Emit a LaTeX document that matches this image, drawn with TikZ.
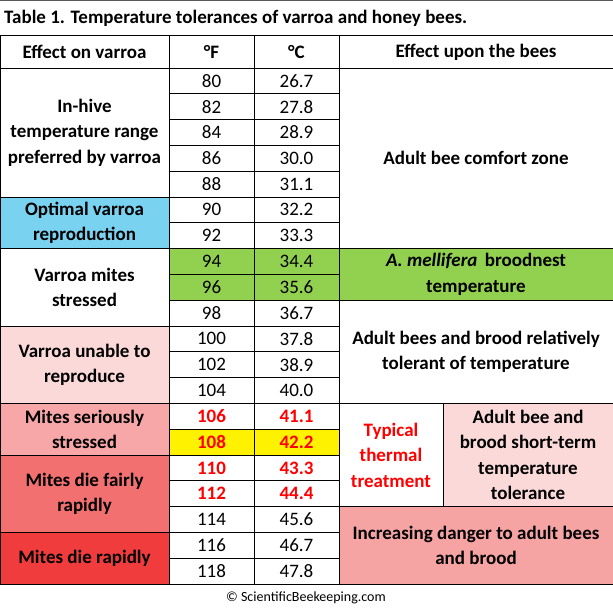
\documentclass[tikz,border=0pt]{standalone}
\usepackage{fontspec}
\setmainfont{Carlito}
\definecolor{cblue}{HTML}{78D2F0}
\definecolor{cgreen}{HTML}{92D050}
\definecolor{lpink}{HTML}{FCD9D9}
\definecolor{mpink}{HTML}{F7A7A7}
\definecolor{dpink}{HTML}{F27070}
\definecolor{cred}{HTML}{F03C3C}
\definecolor{dpink2}{HTML}{F5A3A3}
\definecolor{tred}{HTML}{FF0000}
\begin{document}
\begin{tikzpicture}[x=1pt,y=-1pt,
  cell/.style={draw=black,line width=0.9pt,fill=white},
  txt/.style={font=\bfseries\fontsize{19}{25.5}\selectfont,align=center,inner sep=0pt},
  num/.style={font=\fontsize{19}{22}\selectfont,inner sep=0pt},
  rnum/.style={font=\bfseries\fontsize{19}{22}\selectfont,text=tred,inner sep=0pt}]
\def\rh{25.8}
\useasboundingbox (0,0) rectangle (613,609);
\fill[white] (0,0) rectangle (613,609);
\draw[gray!70!black,line width=1pt] (0,0.5) -- (613,0.5);
\newcommand{\mycell}[6]{% x1,x2,rowtop,rowbot,fill,text
  \filldraw[cell,fill=#5] (#1,{68+\rh*#3}) rectangle (#2,{68+\rh*#4});
  \node[txt] at ({(#1+#2)/2},{68+\rh*(#3+#4)/2}) {#6};}
\node[txt,anchor=west] (title) at (4,18) {Table 1. Temperature tolerances of varroa and honey bees.};
% header
\filldraw[cell] (0,35) rectangle (169,68); \node[txt] (h1) at (84.5,52) {Effect on varroa};
\filldraw[cell] (169,35) rectangle (254,68); \node[txt] (h2) at (211.5,52) {°F};
\filldraw[cell] (254,35) rectangle (339,68); \node[txt] (h3) at (296.5,52) {°C};
\filldraw[cell] (339,35) rectangle (613,68); \node[txt] (h4) at (476,52) {Effect upon the bees};
% column 1
\mycell{0}{169}{0}{5}{white}{In-hive\\temperature range\\preferred by varroa}
\mycell{0}{169}{5}{7}{cblue}{Optimal varroa\\reproduction}
\mycell{0}{169}{7}{10}{white}{Varroa mites\\stressed}
\mycell{0}{169}{10}{13}{lpink}{Varroa unable to\\reproduce}
\mycell{0}{169}{13}{15}{mpink}{Mites seriously\\stressed}
\mycell{0}{169}{15}{18}{dpink}{Mites die fairly\\rapidly}
\mycell{0}{169}{18}{20}{cred}{Mites die rapidly}
% column 4
\mycell{339}{613}{0}{7}{white}{Adult bee comfort zone}
\mycell{339}{613}{7}{9}{cgreen}{\textit{A. mellifera}\, broodnest\\temperature}
\mycell{339}{613}{9}{13}{white}{Adult bees and brood relatively\\tolerant of temperature}
\mycell{339}{443}{13}{17}{white}{\textcolor{tred}{Typical}\\\textcolor{tred}{thermal}\\\textcolor{tred}{treatment}}
\mycell{443}{613}{13}{17}{lpink}{Adult bee and\\brood short-term\\temperature\\tolerance}
\mycell{339}{613}{17}{20}{dpink2}{Increasing danger to adult bees\\and brood}
% numbers
\foreach \i/\f/\c/\fc/\st in {0/80/26.7/white/num,1/82/27.8/white/num,2/84/28.9/white/num,3/86/30.0/white/num,4/88/31.1/white/num,5/90/32.2/white/num,6/92/33.3/white/num,7/94/34.4/cgreen/num,8/96/35.6/cgreen/num,9/98/36.7/white/num,10/100/37.8/white/num,11/102/38.9/white/num,12/104/40.0/white/num,13/106/41.1/white/rnum,14/108/42.2/yellow/rnum,15/110/43.3/white/rnum,16/112/44.4/white/rnum,17/114/45.6/white/num,18/116/46.7/white/num,19/118/47.8/white/num}{
  \filldraw[cell,fill=\fc] (169,{68+\rh*\i}) rectangle (254,{68+\rh*(\i+1)});
  \filldraw[cell,fill=\fc] (254,{68+\rh*\i}) rectangle (339,{68+\rh*(\i+1)});
  \node[\st] (f\i) at (211.5,{68+\rh*(\i+0.5)}) {\f};
  \node[\st] (c\i) at (296.5,{68+\rh*(\i+0.5)}) {\c};
}
\node[font=\fontsize{14}{16}\selectfont,inner sep=0pt] (foot) at (306,598) {© ScientificBeekeeping.com};
\end{tikzpicture}
\end{document}
